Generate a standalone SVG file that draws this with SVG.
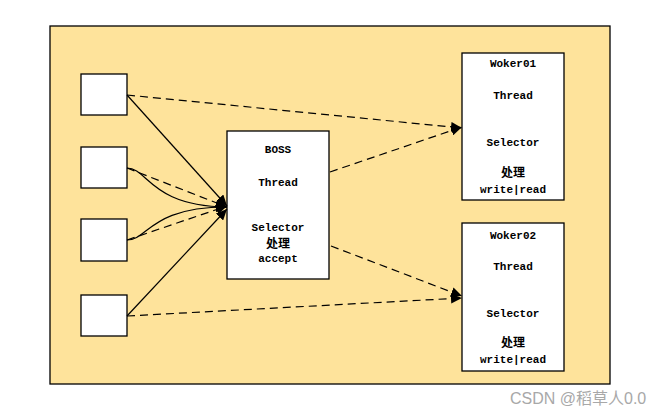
<svg xmlns="http://www.w3.org/2000/svg" width="670" height="416" viewBox="0 0 670 416">
<defs>
<marker id="ah" markerUnits="userSpaceOnUse" markerWidth="12" markerHeight="10" refX="11" refY="5" orient="auto">
<path d="M0,0 L11,5 L0,10 Z" fill="#000"/>
</marker>
<style>
.box{fill:#fff;stroke:#000;stroke-width:1.3}
.ln{fill:none;stroke:#000;stroke-width:1.2;marker-end:url(#ah)}
.ds{stroke-dasharray:8 5}
.t{font-family:"Liberation Mono","Noto Sans CJK SC",monospace;font-weight:bold;font-size:11px;text-anchor:middle;fill:#000}
.c{font-family:"Noto Sans CJK SC",sans-serif;font-weight:bold;font-size:12px;text-anchor:middle;fill:#000}
</style>
</defs>
<rect width="670" height="416" fill="#fff"/>
<rect x="50" y="26" width="560" height="358" fill="#fee39b" stroke="#000" stroke-width="1.3"/>
<g id="c1"><rect class="box" x="81" y="74" width="46" height="41"/></g>
<g id="c2"><rect class="box" x="81" y="147" width="46" height="41"/></g>
<g id="c3"><rect class="box" x="81" y="219" width="46" height="42"/></g>
<g id="c4"><rect class="box" x="81" y="295" width="46" height="41"/></g>
<g id="boss"><rect class="box" x="227" y="131" width="102" height="148"/>
<text class="t" x="278" y="153">BOSS</text>
<text class="t" x="278" y="186">Thread</text>
<text class="t" x="278" y="231">Selector</text>
<text class="c" x="278" y="248">处理</text>
<text class="t" x="278" y="262">accept</text>
</g>
<g id="w1"><rect class="box" x="462" y="53" width="102" height="147"/>
<text class="t" x="513" y="67">Woker01</text>
<text class="t" x="513" y="99">Thread</text>
<text class="t" x="513" y="146">Selector</text>
<text class="c" x="513" y="177">处理</text>
<text class="t" x="513" y="193">write|read</text>
</g>
<g id="w2"><rect class="box" x="462" y="223" width="102" height="148"/>
<text class="t" x="513" y="239">Woker02</text>
<text class="t" x="513" y="270">Thread</text>
<text class="t" x="513" y="317">Selector</text>
<text class="c" x="513" y="347">处理</text>
<text class="t" x="513" y="363">write|read</text>
</g>
<g id="connectors">
<path class="ln" d="M127,95 L227,206"/>
<path class="ln" d="M127,168 C148,168 150,206 227,207"/>
<path class="ln ds" d="M127,168 L227,207"/>
<path class="ln" d="M127,240 C148,240 150,207 227,207"/>
<path class="ln ds" d="M127,240 L227,206"/>
<path class="ln" d="M127,316 L227,209"/>
<path class="ln ds" d="M127,95 L462,128"/>
<path class="ln ds" d="M127,316 L462,298"/>
<path class="ln ds" d="M330,172 L462,127"/>
<path class="ln ds" d="M331,246 L462,296"/>
</g>
<text x="510" y="404" font-family="Liberation Sans,Noto Sans CJK SC,sans-serif" font-size="16" fill="#a8a8a8">CSDN @稻草人0.0</text>
</svg>
